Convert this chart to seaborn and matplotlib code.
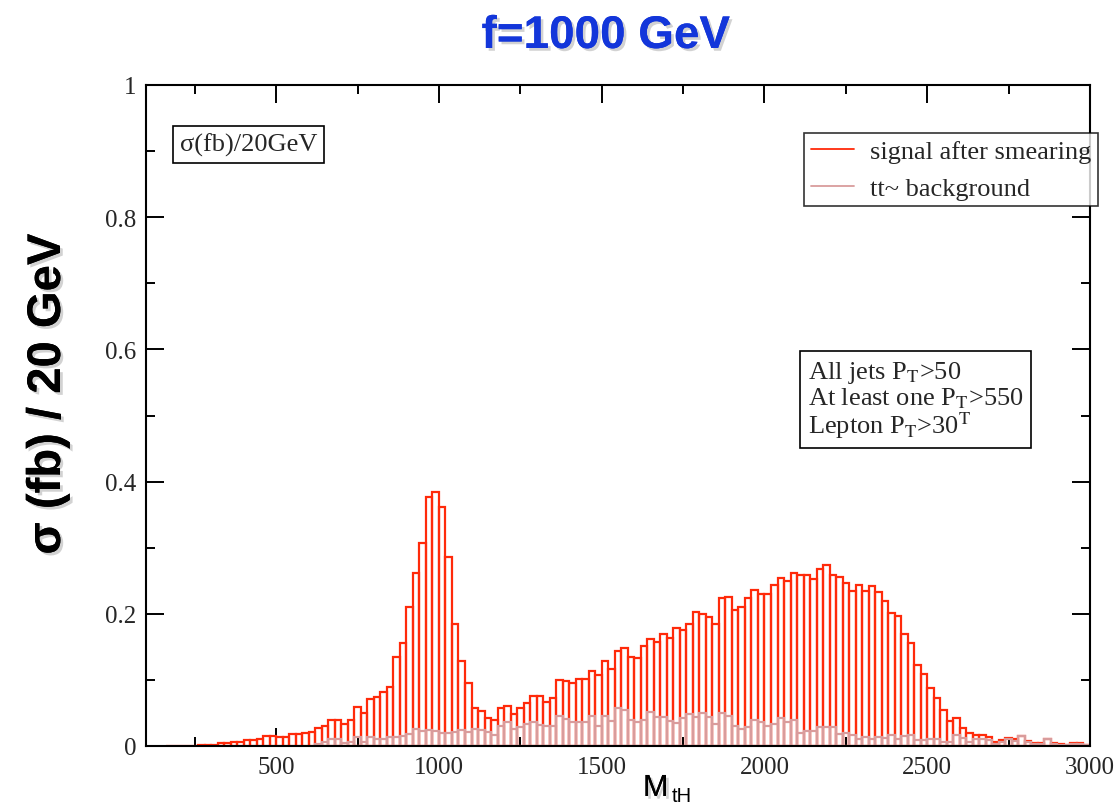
import numpy as np
import pandas as pd
import matplotlib
matplotlib.use("Agg")
import matplotlib.pyplot as plt
import seaborn as sns
from matplotlib.lines import Line2D
from matplotlib import patheffects as pe
from matplotlib.ticker import MultipleLocator, FuncFormatter

# ---------------- data (sigma in fb per 20 GeV bin) ----------------
bin_width = 20
signal_start = 160      # left edge of first signal bin (GeV)
signal = [
    0.0005, 0.0005, 0.0005, 0.0005, 0.0005, 0.001, 0.001, 0.001, 0.004, 0.004,
    0.0055, 0.0055, 0.0096, 0.0096, 0.0106, 0.0156, 0.0146, 0.014, 0.014, 0.0177,
    0.0177, 0.0197, 0.0217, 0.0267, 0.031, 0.040, 0.040, 0.033, 0.040, 0.059,
    0.050, 0.0716, 0.0746, 0.081, 0.090, 0.134, 0.156, 0.211, 0.261, 0.307,
    0.377, 0.385, 0.361, 0.286, 0.184, 0.128, 0.096, 0.057, 0.053, 0.042,
    0.040, 0.057, 0.061, 0.048, 0.058, 0.065, 0.075, 0.075, 0.067, 0.073,
    0.100, 0.099, 0.095, 0.102, 0.102, 0.114, 0.107, 0.128, 0.117, 0.144,
    0.149, 0.134, 0.133, 0.152, 0.162, 0.157, 0.169, 0.164, 0.179, 0.176,
    0.185, 0.203, 0.200, 0.195, 0.184, 0.224, 0.226, 0.205, 0.211, 0.224,
    0.236, 0.230, 0.230, 0.244, 0.254, 0.250, 0.261, 0.258, 0.259, 0.253,
    0.268, 0.274, 0.259, 0.256, 0.246, 0.234, 0.244, 0.234, 0.242, 0.233,
    0.220, 0.201, 0.197, 0.170, 0.156, 0.123, 0.109, 0.088, 0.073, 0.054,
    0.038, 0.043, 0.027, 0.019, 0.016, 0.016, 0.014, 0.0055, 0.009, 0.0126,
    0.010, 0.015, 0.008, 0.005, 0.005, 0.011, 0.004, 0.003, 0.002, 0.004,
    0.0045, 0.001,
]
background_start = 620  # left edge of first background bin (GeV)
background = [
    0.003, 0.0055, 0.0106, 0.0106, 0.0045, 0.0066, 0.014, 0.0055, 0.013, 0.0106,
    0.0106, 0.014, 0.014, 0.0156, 0.018, 0.025, 0.022, 0.024, 0.022, 0.019,
    0.019, 0.021, 0.024, 0.021, 0.026, 0.024, 0.021, 0.017, 0.030, 0.036,
    0.026, 0.028, 0.034, 0.037, 0.032, 0.030, 0.030, 0.045, 0.041, 0.037,
    0.036, 0.037, 0.045, 0.031, 0.045, 0.038, 0.058, 0.054, 0.040, 0.036,
    0.040, 0.052, 0.044, 0.044, 0.038, 0.035, 0.042, 0.049, 0.044, 0.050,
    0.044, 0.033, 0.050, 0.045, 0.031, 0.026, 0.029, 0.040, 0.037, 0.030,
    0.034, 0.043, 0.037, 0.040, 0.020, 0.023, 0.023, 0.029, 0.028, 0.028,
    0.018, 0.019, 0.016, 0.010, 0.014, 0.010, 0.014, 0.012, 0.017, 0.010,
    0.015, 0.017, 0.009, 0.009, 0.010, 0.010, 0.0055, 0.0055, 0.016, 0.012,
    0.0055, 0.010, 0.011, 0.009, 0.0025, 0.0055, 0.011, 0.008, 0.015, 0.0055,
    0.0025, 0.0025, 0.010, 0.0025, 0.0015, 0.0015, 0.0025, 0.0025, 0.001,
]
legend_labels = ["signal after smearing", "tt~ background"]
x_ticks_major = [500, 1000, 1500, 2000, 2500, 3000]
y_ticks_major = [0, 0.2, 0.4, 0.6, 0.8, 1.0]

RED = "#FF2A0A"
PINK = "#D99C9C"
BLUE = "#1336DA"

# ---------------- style ----------------
sns.set_style("ticks")
plt.rcParams["font.family"] = ["Liberation Serif", "DejaVu Serif"]

fig = plt.figure(figsize=(11.18, 8.04), dpi=100)
ax = fig.add_axes([146 / 1118, 1 - 747 / 804, (1090 - 146) / 1118, (747 - 86) / 804])

sig_edges = [float(signal_start + bin_width * i) for i in range(len(signal) + 1)]
bg_edges = [float(background_start + bin_width * i) for i in range(len(background) + 1)]
sig_df = pd.DataFrame({"mass": np.array(sig_edges[:-1]) + bin_width / 2, "xsec": signal})
bg_df = pd.DataFrame({"mass": np.array(bg_edges[:-1]) + bin_width / 2, "xsec": background})

sns.histplot(data=sig_df, x="mass", weights="xsec", bins=sig_edges,
             element="bars", fill=False, color=RED, linewidth=1.6, ax=ax)
sns.histplot(data=bg_df, x="mass", weights="xsec", bins=bg_edges,
             element="bars", fill=False, color=PINK, linewidth=1.6, ax=ax)

ax.set_xlim(100, 3000)
ax.set_ylim(0, 1)
ax.set_xlabel("")
ax.set_ylabel("")

ax.set_xticks(x_ticks_major)
ax.xaxis.set_minor_locator(MultipleLocator(250))
ax.set_yticks(y_ticks_major)
ax.yaxis.set_minor_locator(MultipleLocator(0.1))
ax.yaxis.set_major_formatter(FuncFormatter(
    lambda v, p: "0" if abs(v) < 1e-9 else ("1" if abs(v - 1) < 1e-9 else f"{v:.1f}")))
ax.tick_params(which="both", direction="in", top=True, right=True,
               width=1.4, color="black", labelsize=18)
ax.tick_params(which="major", length=13)
ax.tick_params(which="minor", length=6.5)
ax.tick_params(axis="x", pad=7)
ax.tick_params(axis="y", pad=7)
for s in ax.spines.values():
    s.set_linewidth(1.5)
    s.set_color("black")

# legend
handles = [Line2D([0], [0], color=RED, lw=1.3), Line2D([0], [0], color=PINK, lw=1.3)]
leg = ax.legend(handles, legend_labels, loc="upper right",
                bbox_to_anchor=(1098 / 1118, 1 - 134 / 804), bbox_transform=fig.transFigure,
                fontsize=19, frameon=True, fancybox=False, handlelength=1.65,
                handletextpad=0.6, borderpad=0.25, labelspacing=0.5, borderaxespad=0)
leg.get_frame().set_edgecolor("black")
leg.get_frame().set_linewidth(1.2)

# text boxes
box = dict(boxstyle="square,pad=0.25", facecolor="white", edgecolor="black", linewidth=1.2)
fig.text(180 / 1118, 1 - 152 / 804, "σ(fb)/20GeV", fontsize=19, ha="left", va="baseline",
         bbox=box)
fig.text(808 / 1118, 1 - 360 / 804,
         "All jets P$_\\mathrm{T}$>50\nAt least one P$_\\mathrm{T}$>550\nLepton P$_\\mathrm{T}$>30$^\\mathrm{T}$",
         fontsize=19, ha="left", va="top", linespacing=1.0, math_fontfamily="stix",
         bbox=dict(boxstyle="square,pad=0.3", facecolor="white", edgecolor="black", linewidth=1.2))

# titles / axis labels
shadow = [pe.withSimplePatchShadow(offset=(2, -2), shadow_rgbFace="gray", alpha=0.35), pe.Normal()]
fig.text(606 / 1118, 1 - 49 / 804, "f=1000 GeV", ha="center", va="baseline",
         fontsize=33, fontweight="bold", color=BLUE, family="Liberation Sans",
         path_effects=shadow)
fig.text(60 / 1118, 1 - 395 / 804, "σ (fb) / 20 GeV", rotation=90, ha="center", va="baseline",
         fontsize=34, fontweight="bold", color="black", family="Liberation Sans",
         rotation_mode="anchor", path_effects=shadow)
fig.text(643 / 1118, 1 - 797 / 804, "M", ha="left", va="baseline", fontsize=22,
         family="Liberation Sans", color="black", path_effects=shadow)
fig.text(672 / 1118, 1 - 802 / 804, "tH", ha="left", va="baseline", fontsize=14.5,
         family="Liberation Sans", color="black")

fig.savefig("out.png", dpi=100)
